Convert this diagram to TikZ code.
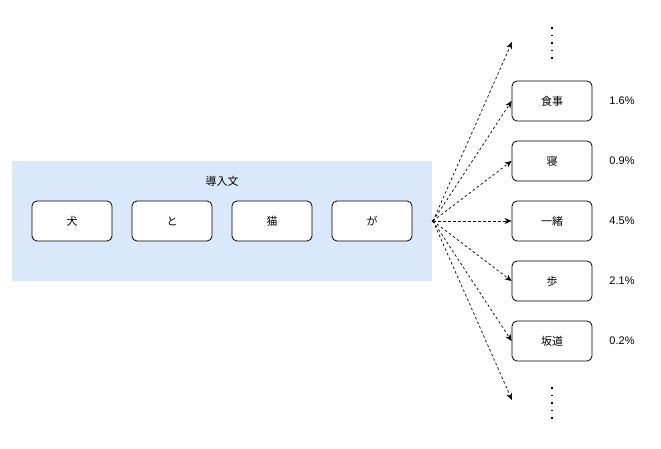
\documentclass[tikz,border=0pt]{standalone}
\usepackage{fontspec}
\setmainfont{Liberation Sans}
\newfontfamily\jpfont{Noto Sans CJK JP}
\usetikzlibrary{arrows.meta}
\definecolor{bgblue}{HTML}{DAE8FC}
\begin{document}
\begin{tikzpicture}[x=1pt,y=-1pt,
  wbox/.style={draw=black,fill=white,rounded corners=5pt,minimum width=80pt,minimum height=40pt,inner sep=0pt,line width=0.8pt,font=\jpfont\fontsize{11}{13}\selectfont},
  pct/.style={font=\fontsize{11}{13}\selectfont,anchor=center},
  conn/.style={dashed,dash pattern=on 2.5pt off 2.5pt,line width=0.7pt,-{Stealth[length=7pt,width=6pt]}},
  vdots/.style={line width=1.3pt,dash pattern=on 1.5pt off 6pt}
]
\useasboundingbox (0,0) rectangle (661,448);
\fill[bgblue] (12,161) rectangle (432,281);
\node[font=\jpfont\fontsize{11}{13}\selectfont] (title) at (222,181) {導入文};
\node[wbox] (w1) at (72,221) {犬};
\node[wbox] (w2) at (172,221) {と};
\node[wbox] (w3) at (272,221) {猫};
\node[wbox] (w4) at (372,221) {が};
\coordinate (src) at (433,221);
\fill (src) circle (1.3pt);
\node[wbox] (c1) at (552,101) {食事};
\node[wbox] (c2) at (552,161) {寝};
\node[wbox] (c3) at (552,221) {一緒};
\node[wbox] (c4) at (552,281) {歩};
\node[wbox] (c5) at (552,341) {坂道};
\node[pct] (p1) at (622,101) {1.6\%};
\node[pct] (p2) at (622,161) {0.9\%};
\node[pct] (p3) at (622,221) {4.5\%};
\node[pct] (p4) at (622,281) {2.1\%};
\node[pct] (p5) at (622,341) {0.2\%};
\coordinate (top) at (512,42);
\coordinate (bot) at (512,400);
\draw[conn] (src) -- (top);
\draw[conn] (src) -- (c1.west);
\draw[conn] (src) -- (c2.west);
\draw[conn] (src) -- (c3.west);
\draw[conn] (src) -- (c4.west);
\draw[conn] (src) -- (c5.west);
\draw[conn] (src) -- (bot);
\coordinate (d1a) at (552,27);
\coordinate (d1b) at (552,62);
\coordinate (d2a) at (552,387);
\coordinate (d2b) at (552,422);
\draw[vdots] (d1a) -- (d1b);
\draw[vdots] (d2a) -- (d2b);
\end{tikzpicture}
\end{document}
